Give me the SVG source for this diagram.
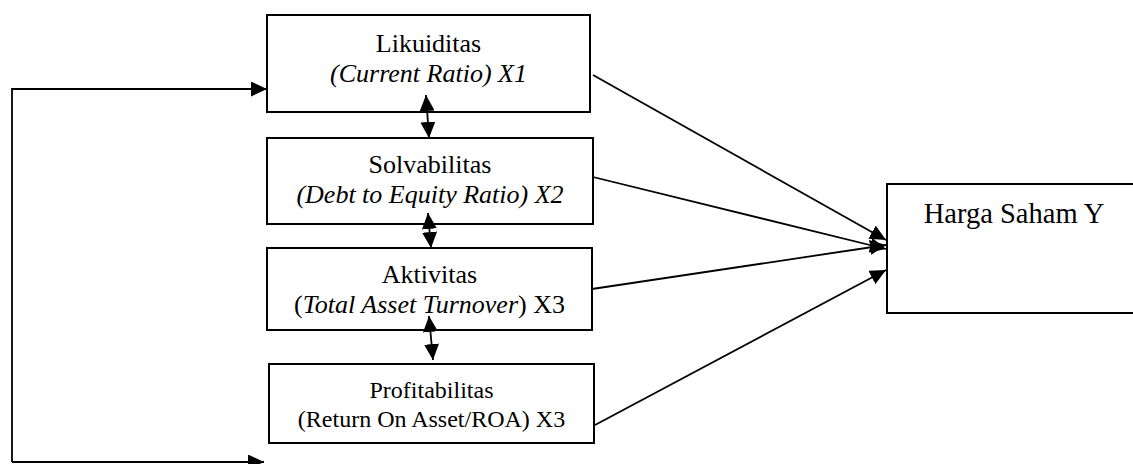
<svg xmlns="http://www.w3.org/2000/svg" width="1133" height="464" viewBox="0 0 1133 464">
<style>
.box{fill:#fff;stroke:#000;stroke-width:2}
text{font-family:'Liberation Serif','Times New Roman',serif;fill:#000;text-anchor:middle}
.i{font-style:italic}
.c{fill:none;stroke:#000;stroke-width:1.8}
</style>
<defs>
<marker id="ah" markerUnits="userSpaceOnUse" markerWidth="16" markerHeight="15" refX="16" refY="7.5" orient="auto-start-reverse">
<path d="M0,0 L16,7.5 L0,15 z" fill="#000"/>
</marker>
</defs>
<g id="n1">
<rect class="box" x="267" y="15" width="323" height="97"/>
<text x="428.5" y="52" font-size="26">Likuiditas</text>
<text class="i" x="428.5" y="82" font-size="26">(Current Ratio) X1</text>
</g>
<g id="n2">
<rect class="box" x="267" y="138" width="326" height="86"/>
<text x="430" y="173" font-size="26">Solvabilitas</text>
<text class="i" x="430" y="203" font-size="26">(Debt to Equity Ratio) X2</text>
</g>
<g id="n3">
<rect class="box" x="267" y="248" width="325" height="82"/>
<text x="429.5" y="283" font-size="26">Aktivitas</text>
<text x="429.5" y="313" font-size="26">(<tspan class="i">Total Asset Turnover</tspan>) X3</text>
</g>
<g id="n4">
<rect class="box" x="269" y="364" width="325" height="79"/>
<text x="431.5" y="398" font-size="24">Profitabilitas</text>
<text x="431.5" y="427" font-size="24">(Return On Asset/ROA) X3</text>
</g>
<g id="ny">
<rect class="box" x="887" y="184" width="260" height="129"/>
<text x="1014" y="223" font-size="28.5">Harga Saham Y</text>
</g>
<g id="connectors">
<polyline class="c" points="12,462 12,89 267,89" marker-end="url(#ah)"/>
<line class="c" x1="12" y1="462" x2="264" y2="462" marker-end="url(#ah)"/>
<line class="c" x1="426" y1="95" x2="429" y2="138" marker-start="url(#ah)" marker-end="url(#ah)"/>
<line class="c" x1="428" y1="213" x2="431" y2="248" marker-start="url(#ah)" marker-end="url(#ah)"/>
<line class="c" x1="429" y1="316" x2="433" y2="360" marker-start="url(#ah)" marker-end="url(#ah)"/>
<line class="c" x1="593" y1="75" x2="886" y2="240" marker-end="url(#ah)"/>
<line class="c" x1="593" y1="177" x2="886" y2="249" marker-end="url(#ah)"/>
<line class="c" x1="592" y1="289" x2="886" y2="245" marker-end="url(#ah)"/>
<line class="c" x1="595" y1="425" x2="886" y2="270" marker-end="url(#ah)"/>
</g>
</svg>
